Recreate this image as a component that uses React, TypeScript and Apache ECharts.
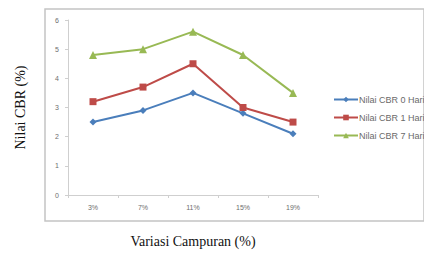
import React, { useEffect, useRef } from "react";
import * as echarts from "echarts";

const categories = ["3%", "7%", "11%", "15%", "19%"];
const cbr0 = [2.5, 2.9, 3.5, 2.8, 2.1];
const cbr1 = [3.2, 3.7, 4.5, 3.0, 2.5];
const cbr7 = [4.8, 5.0, 5.6, 4.8, 3.5];
const seriesNames = ["Nilai CBR 0 Hari", "Nilai CBR 1 Hari", "Nilai CBR 7 Hari"];

export default function App() {
  const ref = useRef<HTMLDivElement>(null);
  useEffect(() => {
    const chart = echarts.init(ref.current!, null, { renderer: "svg" });
    const tickText = { color: "#6e6e6e", fontSize: 7, fontFamily: "Liberation Sans" };
    chart.setOption({
      animation: false,
      backgroundColor: "#ffffff",
      grid: [
        { left: 68, right: 106, top: 20, bottom: 56 },
        {
          left: 45,
          right: -30,
          top: 9,
          bottom: 32,
          show: true,
          borderColor: "#c4c4c4",
          borderWidth: 1.5,
          backgroundColor: "#ffffff",
          z: 0,
        },
      ],
      xAxis: [
        {
          type: "category",
          gridIndex: 0,
          data: categories,
          boundaryGap: true,
          name: "Variasi Campuran (%)",
          nameLocation: "middle",
          nameGap: 39,
          nameTextStyle: { color: "#111", fontSize: 14, fontFamily: "Liberation Serif" },
          axisLine: { lineStyle: { color: "#cfcfcf", width: 1 } },
          axisTick: { show: true, length: 3, lineStyle: { color: "#cfcfcf" } },
          axisLabel: { ...tickText, margin: 9 },
        },
        { type: "value", gridIndex: 1, show: false },
      ],
      yAxis: [
        {
          type: "value",
          gridIndex: 0,
          min: 0,
          max: 6,
          interval: 1,
          name: "Nilai CBR (%)",
          nameLocation: "middle",
          nameGap: 41,
          nameTextStyle: { color: "#111", fontSize: 14, fontFamily: "Liberation Serif" },
          axisLine: { show: true, lineStyle: { color: "#cfcfcf", width: 1 } },
          axisTick: { show: true, length: 3, lineStyle: { color: "#cfcfcf" } },
          axisLabel: { ...tickText, margin: 9 },
          splitLine: { show: false },
        },
        { type: "value", gridIndex: 1, show: false, splitLine: { show: false } },
      ],
      legend: {
        orient: "vertical",
        left: 333,
        top: 95,
        padding: 0,
        itemWidth: 24,
        itemHeight: 7,
        itemGap: 9,
        textStyle: { color: "#6a6a6a", fontSize: 9, fontFamily: "Liberation Sans", padding: [0, 0, 0, -4] },
        data: seriesNames,
      },
      series: [
        {
          name: seriesNames[0],
          type: "line",
          data: cbr0,
          symbol: "diamond",
          symbolSize: 7,
          itemStyle: { color: "#4a7ebb" },
          lineStyle: { width: 2, color: "#4a7ebb" },
        },
        {
          name: seriesNames[1],
          type: "line",
          data: cbr1,
          symbol: "rect",
          symbolSize: 7,
          itemStyle: { color: "#be4b48" },
          lineStyle: { width: 2, color: "#be4b48" },
        },
        {
          name: seriesNames[2],
          type: "line",
          data: cbr7,
          symbol: "triangle",
          symbolSize: 8,
          itemStyle: { color: "#98b954" },
          lineStyle: { width: 2, color: "#98b954" },
        },
      ],
    });
    return () => chart.dispose();
  }, []);
  return (
    <div
      ref={ref}
      style={{ position: "absolute", left: 0, top: 0, width: 424, height: 253 }}
    />
  );
}
